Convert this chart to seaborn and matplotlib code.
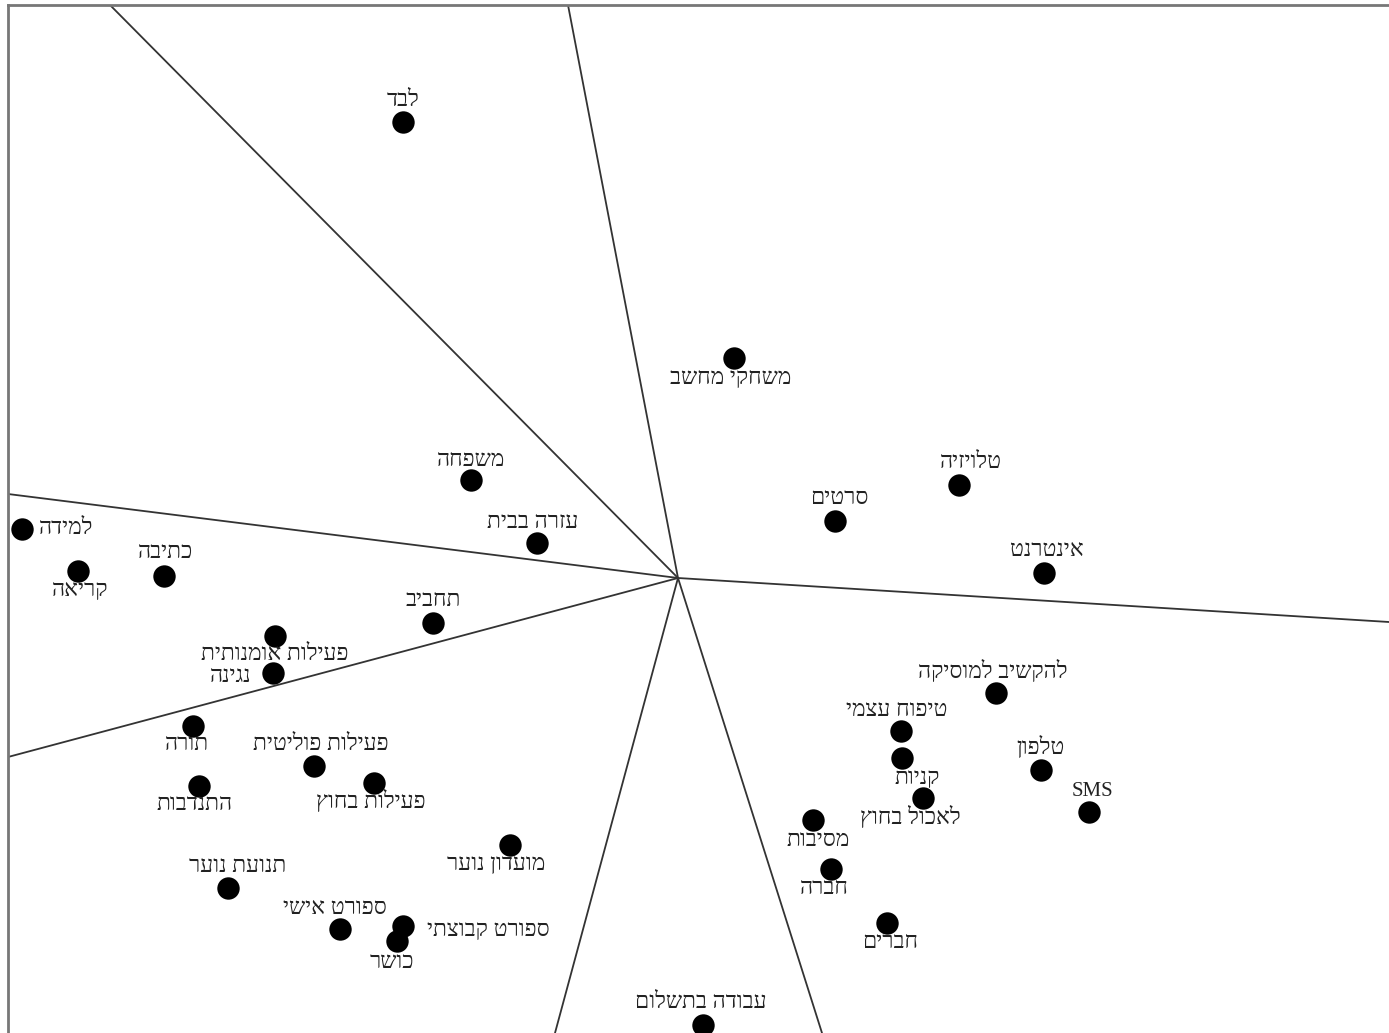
import matplotlib
matplotlib.use('Agg')
import matplotlib.pyplot as plt
import seaborn as sns
import pandas as pd

# 項目名 (ヘブライ語)
labels = ['לבד', 'משחקי מחשב', 'משפחה', 'עזרה בבית', 'טלויזיה', 'סרטים', 'אינטרנט',
          'למידה', 'כתיבה', 'קריאה', 'תחביב', 'פעילות אומנותית', 'נגינה', 'תורה',
          'פעילות פוליטית', 'התנדבות', 'פעילות בחוץ', 'מועדון נוער', 'תנועת נוער',
          'ספורט אישי', 'ספורט קבוצתי', 'כושר', 'עבודה בתשלום', 'להקשיב למוסיקה',
          'טיפוח עצמי', 'טלפון', 'SMS', 'קניות', 'לאכול בחוץ', 'מסיבות', 'חברה', 'חברים']
# 座標
x_vals = [403, 734, 471, 537, 959, 835, 1044,
          22, 164, 78, 433, 275, 273, 193,
          314, 199, 374, 510, 228,
          340, 403, 397, 703, 996,
          901, 1041, 1089, 902, 923, 813, 831, 887]
y_vals = [122, 358, 480, 543, 485, 521, 573,
          529, 576, 571, 623, 636, 673, 726,
          766, 786, 783, 845, 888,
          929, 926, 941, 1025, 693,
          731, 770, 812, 758, 798, 820, 869, 923]

# 区分線 (中心から外への端点)
center = (678, 578)
line_ends_x = [110, 568, 1389, 822, 555, 8, 8]
line_ends_y = [5, 5, 622, 1033, 1033, 757, 494]

# ラベルの位置 (点からのずれ, ピクセル)
label_offsets = [(0, -22), (-3, 21), (0, -19), (-4, -21), (12, -22), (4, -22), (3, -22),
                 (44, 0), (2, -23), (2, 19), (0, -22), (0, 19), (-42, 3), (-6, 19),
                 (7, -22), (-4, 19), (-3, 19), (-14, 20), (10, -22),
                 (-5, -21), (85, 4), (-5, 21), (-2, -22), (-3, -22),
                 (-4, -21), (0, -22), (3, -21), (15, 20), (-13, 20), (5, 20), (-7, 20), (3, 20)]

df = pd.DataFrame({'x': x_vals, 'y': y_vals, 'label': labels})

sns.set_style('white')
plt.rcParams['font.family'] = ['Liberation Serif', 'DejaVu Sans']

fig = plt.figure(figsize=(13.89, 10.33), dpi=100)
ax = fig.add_axes([8 / 1389, 0, 1381 / 1389, 1028 / 1033])

# 区分線
for ex, ey in zip(line_ends_x, line_ends_y):
    ax.plot([center[0], ex], [center[1], ey], color='#333333', lw=1.3, zorder=1)

sns.scatterplot(data=df, x='x', y='y', ax=ax, s=260, color='black',
                edgecolor='black', linewidth=0, zorder=3, legend=False)

for (px, py, lab), (dx, dy) in zip(zip(x_vals, y_vals, labels), label_offsets):
    # matplotlibはRTL非対応なので文字列を反転
    shown = lab if lab.isascii() else lab[::-1]
    ax.text(px + dx, py + dy, shown, ha='center', va='center',
            fontsize=16.5 if not lab.isascii() else 15, color='#222222', zorder=4)

ax.set_xlim(8, 1389)
ax.set_ylim(1033, 5)
ax.set_xlabel('')
ax.set_ylabel('')
ax.set_xticks([])
ax.set_yticks([])
for side in ['right', 'bottom']:
    ax.spines[side].set_visible(False)
for side in ['left', 'top']:
    ax.spines[side].set_color('#777777')
    ax.spines[side].set_linewidth(2)

plt.savefig('out.png', dpi=100)
